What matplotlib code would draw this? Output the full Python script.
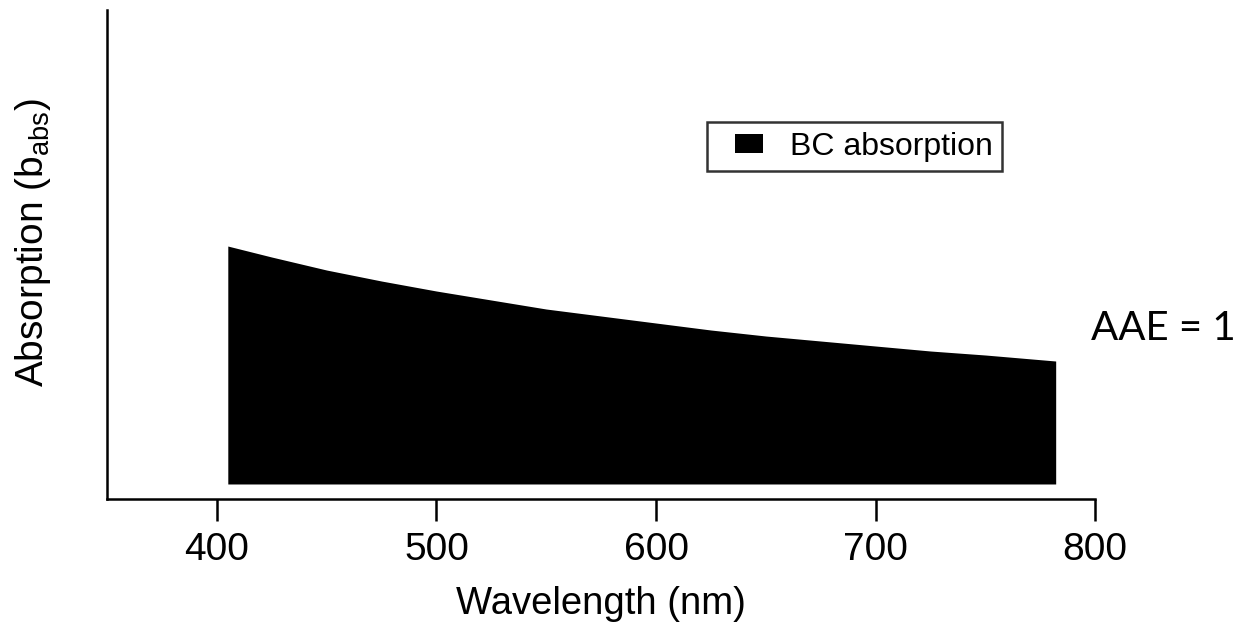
import matplotlib.pyplot as plt
from matplotlib.patches import Patch, Rectangle
from matplotlib.legend_handler import HandlerPatch

plt.rcParams['font.family'] = ['Liberation Sans', 'DejaVu Sans']
plt.rcParams['mathtext.fontset'] = 'custom'
plt.rcParams['mathtext.rm'] = 'Liberation Sans'

# BC absorption curve (arbitrary units)
wavelength = [405, 425, 450, 475, 500, 525, 550, 575, 600, 625, 650, 675, 700, 725, 750, 782]
b_abs = [2.38, 2.27, 2.14, 2.03, 1.93, 1.84, 1.75, 1.68, 1.61, 1.54, 1.48, 1.43, 1.38, 1.33, 1.29, 1.23]
xticks = [400, 500, 600, 700, 800]


def small_box(legend, orig_handle, xdescent, ydescent, width, height, fontsize):
    # square marker drawn at the right end of the handle area
    w, h = 20.2, 13.7
    return Rectangle((-xdescent + width - w, -ydescent + (height - h) / 2), w, h)


fig = plt.figure(figsize=(12.43, 6.26), dpi=100)
ax = fig.add_axes([0.0861, 0.2029, 0.795, 0.781])

ax.fill_between(wavelength, 0, b_abs, color="black", linewidth=0)

ax.set_xlim(350, 800)
ax.set_ylim(-0.15, 4.74)
ax.set_xticks(xticks)
ax.set_yticks([])
ax.spines["top"].set_visible(False)
ax.spines["right"].set_visible(False)
for s in ["left", "bottom"]:
    ax.spines[s].set_linewidth(1.8)
ax.tick_params(axis="x", direction="out", length=16, width=1.8, labelsize=28, pad=8)

ax.set_xlabel("Wavelength (nm)", fontsize=27.5, labelpad=13)
ax.set_ylabel("Absorption (b$_{\\rm abs}$)", fontsize=28)
ax.yaxis.set_label_coords(-0.0547, 0.5256)

proxy = Patch(facecolor="black", edgecolor="none", label="BC absorption")
leg = ax.legend(handles=[proxy], loc="upper left", bbox_to_anchor=(0.569, 0.805),
                bbox_transform=fig.transFigure, fontsize=23, frameon=True, fancybox=False,
                edgecolor="black", handlelength=1.44, handleheight=0.6, borderaxespad=0,
                borderpad=0.3, handletextpad=0.85,
                handler_map={Patch: HandlerPatch(patch_func=small_box)})
leg.get_frame().set_linewidth(1.8)

fig.text(0.878, 0.476, "AAE = 1", fontsize=29, family=["Lato", "DejaVu Sans"], va="center")

plt.savefig("out.png", dpi=100)
